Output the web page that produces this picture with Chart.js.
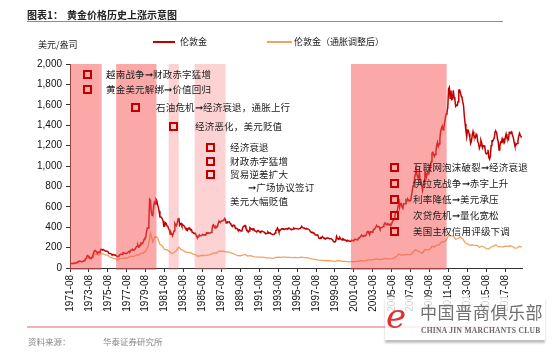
<!DOCTYPE html>
<html><head><meta charset="utf-8">
<script src="https://cdn.jsdelivr.net/npm/chart.js@4/dist/chart.umd.min.js"></script>
<style>
html,body{margin:0;padding:0;background:#fff;}
#wrap{position:relative;width:555px;height:353px;overflow:hidden;font-family:"Noto Sans CJK SC","Liberation Sans",sans-serif;color:#222;}
#c{position:absolute;left:0;top:0;}
.t{position:absolute;white-space:nowrap;line-height:12px;}
.sq{position:absolute;width:5px;height:5px;border:2px solid #c00000;}
.ann{position:absolute;white-space:nowrap;font-size:9.5px;line-height:12px;color:#222;letter-spacing:0.2px;}
</style></head>
<body><div id="wrap">
<canvas id="c" width="555" height="353"></canvas>
<div class="t" style="left:27px;top:9px;font-size:10px;font-weight:bold;">图表1：</div>
<div class="t" style="left:67px;top:9px;font-size:10px;font-weight:bold;">黄金价格历史上涨示意图</div>
<div style="position:absolute;left:27px;top:21px;width:476px;height:1px;background:#d27070;"></div>
<div class="t" style="left:38px;top:39px;font-size:9px;">美元/盎司</div>
<div style="position:absolute;left:153px;top:41px;width:22px;height:2px;background:#c00000;"></div>
<div class="t" style="left:180px;top:36px;font-size:9px;">伦敦金</div>
<div style="position:absolute;left:267px;top:41px;width:25px;height:2px;background:#f2a262;"></div>
<div class="t" style="left:294px;top:36px;font-size:9px;">伦敦金（通胀调整后）</div>
<div id="ann"></div>
<div style="position:absolute;left:27px;top:326px;width:476px;height:2px;background:#f0b4ac;"></div>
<div class="t" style="left:28px;top:335px;font-size:8.5px;color:#888;">资料来源：</div>
<div class="t" style="left:103px;top:335px;font-size:8.5px;color:#888;">华泰证券研究所</div>
<div style="position:absolute;left:385px;top:297px;width:160px;height:43px;background:rgba(255,255,255,0.8);box-shadow:0 3px 2px rgba(0,0,0,0.25);"></div>
<div class="t" style="left:386px;top:296px;font-size:34px;line-height:40px;color:#e03030;font-family:'DejaVu Serif',serif;font-style:italic;">e</div>
<div class="t" style="left:420px;top:302px;font-size:17px;line-height:20px;color:#707070;letter-spacing:0.6px;">中国晋商俱乐部</div>
<div class="t" style="left:421px;top:326px;font-size:7.5px;line-height:9px;color:#666;font-family:'Liberation Serif',serif;font-weight:bold;letter-spacing:0.3px;">CHINA JIN MARCHANTS CLUB</div>
</div>
<script>
// ---- data ----
const startLabel = '1971-08';
// monthly average London gold price (USD/oz), 1971-08 .. 2019-05
const goldNominal = [
43,42,43,43,44,
46,48,48,49,55,62,66,67,66,65,63,64,
65,74,84,91,102,123,120,107,103,100,95,107,
129,150,168,172,164,154,143,155,152,159,182,184,
176,180,178,170,167,164,165,163,144,143,142,139,
131,131,133,128,127,126,118,109,114,116,130,134,
132,136,148,149,147,141,143,145,150,159,163,160,
173,178,184,175,176,183,189,206,213,227,206,208,
227,246,242,239,258,279,295,301,355,392,391,455,
675,665,554,517,514,601,644,627,674,661,624,595,
558,501,500,496,480,461,409,410,444,438,413,410,
384,374,330,350,334,315,339,364,436,422,414,444,
481,491,420,433,438,413,423,416,412,394,382,388,
371,386,394,381,378,378,348,348,341,340,341,320,
303,299,304,325,317,317,318,330,324,326,325,322,
345,339,346,341,342,343,349,377,418,424,399,391,
408,401,409,438,460,450,451,461,460,466,468,486,
477,442,444,452,451,452,438,431,414,407,420,419,
404,388,390,384,371,368,375,365,363,367,392,409,
410,417,393,374,369,352,363,395,389,381,382,378,
384,364,363,358,357,367,368,357,349,359,360,361,
355,354,344,339,337,341,353,343,345,344,335,335,
329,329,330,342,367,371,392,379,355,364,374,383,
387,382,384,378,381,386,386,380,392,390,384,379,
379,377,382,391,385,388,386,384,383,383,386,387,
400,405,396,393,392,385,384,388,383,381,378,369,
355,347,352,345,344,341,324,324,323,325,306,289,
289,298,296,308,299,292,293,284,289,296,294,292,
287,287,286,283,276,261,256,257,265,311,293,283,
285,301,286,280,275,286,282,275,274,270,266,272,
266,262,263,261,272,270,268,272,283,283,276,276,
282,296,294,303,315,321,313,310,319,317,319,333,
357,359,341,328,356,356,351,360,379,379,390,408,
414,405,407,403,384,392,398,401,405,421,439,442,
424,423,434,429,422,431,425,438,456,470,477,510,
550,555,557,611,677,596,634,633,598,586,628,630,
631,665,655,679,667,656,665,665,713,755,806,803,
890,922,968,910,889,890,940,839,830,807,761,816,
859,943,924,890,929,946,934,949,997,1043,1127,1135,
1118,1095,1113,1149,1205,1233,1193,1216,1271,1342,1370,1391,
1356,1373,1424,1474,1510,1529,1573,1756,1772,1665,1739,1652,
1656,1743,1674,1650,1586,1597,1594,1630,1745,1747,1722,1685,
1672,1628,1593,1488,1414,1343,1286,1352,1349,1317,1276,1222,
1244,1300,1336,1299,1289,1279,1311,1295,1237,1223,1175,1201,
1251,1227,1179,1199,1199,1182,1128,1118,1125,1159,1086,1068,
1098,1200,1245,1242,1261,1276,1337,1340,1327,1267,1238,1157,
1192,1234,1231,1267,1246,1260,1237,1283,1314,1280,1282,1265,
1331,1331,1325,1335,1304,1282,1238,1202,1198,1215,1221,1250,
1292,1320,1301,1286,1284
];
// inflation-adjusted gold price (1971 dollars), quarterly 1971-08 .. 2019-05
const goldReal = [
43,43,
48,53,65,61, 71,95,97,84, 131,137,125,143, 139,128,123,105,
96,92,78,92, 94,99,97,108, 116,112,128,125, 145,147,166,210,
344,257,307,298, 232,217,181,180, 161,142,152,172, 205,180,170,154,
154,149,136,132, 115,120,125,122, 127,128,140,147, 147,166,164,165,
156,157,148,142, 130,122,120,127, 133,117,122,116, 110,107,107,107,
104,99,99,96, 94,104,107,105, 106,106,104,105, 102,103,102,103,
107,102,101,97, 89,88,82,77, 75,75,71,73, 71,68,63,71,
72,66,65,62, 61,63,63,64, 68,71,70,72, 80,79,80,86,
89,83,86,94, 90,89,91,98, 114,136,127,127, 133,131,131,157,
178,167,156,146, 181,177,180,213, 206,225,227,255, 253,273,316,314,
312,282,289,305, 286,248,236,223, 226,221,222,203, 213,206,191,187,
206,214,227,209, 207,208,213,212, 218,211,195,198,
213,205
];
const xTickLabels = ['1971-08','1973-08','1975-08','1977-08','1979-08','1981-08','1983-08','1985-08','1987-08','1989-08','1991-08','1993-08','1995-08','1997-08','1999-08','2001-08','2003-08','2005-08','2007-08','2009-08','2011-08','2013-08','2015-08','2017-08'];
const yTickValues = [0,200,400,600,800,1000,1200,1400,1600,1800,2000];
// shaded periods (decimal years)
const periodStart = [1971.58, 1976.46, 1982.01, 1984.75, 2001.27];
const periodEnd   = [1974.92, 1980.72, 1983.07, 1988.02, 2011.38];
const periodStrong = [true, true, false, false, true];
const seriesNames = ['伦敦金', '伦敦金（通胀调整后）'];
const notes = [
 '越南战争➞财政赤字猛增','黄金美元解绑➞价值回归','石油危机➞经济衰退，通胀上行','经济恶化，美元贬值',
 '经济衰退','财政赤字猛增','贸易逆差扩大','➞广场协议签订','美元大幅贬值',
 '互联网泡沫破裂➞经济衰退','伊拉克战争➞赤字上升','利率降低➞美元承压','次贷危机➞量化宽松','美国主权信用评级下调'
];

// ---- build ----
const ym = s => parseInt(s.slice(0,4)) + (parseInt(s.slice(5,7)) - 1) / 12;
const x0 = ym(startLabel);
const nominalPts = goldNominal.map((v,i)=>({x: x0 + i/12, y: v}));
const realPts = goldReal.map((v,i)=>({x: x0 + i*3/12, y: v}));
const tickPos = xTickLabels.map(ym);

// annotation overlay (layout only)
const annLayout = [
 [87,74,106],[87,89,106],[135,107,156],[173,126,195],
 [210,147,230],[210,161,230],[210,174,230],[null,187,248],[null,201,230],
 [394,167,413],[394,183,413],[394,199,413],[394,215,413],[394,231,413]
];
const annDiv = document.getElementById('ann');
notes.forEach((txt,i)=>{
  const [sx, cy, tx] = annLayout[i];
  if (sx !== null) {
    const s = document.createElement('div'); s.className='sq';
    s.style.left=(sx-4)+'px'; s.style.top=(cy-4)+'px'; annDiv.appendChild(s);
  }
  const t = document.createElement('div'); t.className='ann';
  t.style.left=tx+'px'; t.style.top=(cy-6)+'px'; t.textContent=txt; annDiv.appendChild(t);
});

const shadePlugin = {
  id:'shade',
  afterDatasetsDraw(chart){
    const {ctx, chartArea, scales:{x, y}} = chart;
    const top = y.getPixelForValue(yTickValues[yTickValues.length-1]);
    ctx.save();
    periodStart.forEach((s,i)=>{
      const a = x.getPixelForValue(s), b = x.getPixelForValue(periodEnd[i]);
      ctx.fillStyle = periodStrong[i] ? 'rgba(245,82,82,0.5)' : 'rgba(245,118,118,0.33)';
      ctx.fillRect(a, top, b - a, chartArea.bottom + 2 - top);
    });
    ctx.restore();
  }
};

new Chart(document.getElementById('c'), {
  type:'line',
  data:{datasets:[
    {label:seriesNames[0], data:nominalPts, borderColor:'#c00000', borderWidth:1.5, pointRadius:0, tension:0, order:1},
    {label:seriesNames[1], data:realPts, borderColor:'#f2a262', borderWidth:1.3, pointRadius:0, tension:0, order:2}
  ]},
  options:{
    responsive:false, animation:false, devicePixelRatio:1,
    layout:{padding:{left:0, right:33, top:64, bottom:0}},
    plugins:{legend:{display:false}, tooltip:{enabled:false}},
    scales:{
      x:{type:'linear', min:x0, max:ym('2019-05')+0.01,
        afterBuildTicks: s => { s.ticks = tickPos.map(v=>({value:v})); },
        afterFit: s => { s.height = 85; },
        ticks:{autoSkip:false, maxRotation:90, minRotation:90, padding:3, color:'#111',
          font:{family:'Liberation Sans', size:10},
          callback:(v,i)=>xTickLabels[i]},
        grid:{drawOnChartArea:false, drawTicks:true, tickLength:4, color:'#333'},
        border:{display:true, color:'#333', width:1}
      },
      y:{min:0, max:2000,
        afterBuildTicks: s => { s.ticks = yTickValues.map(v=>({value:v})); },
        afterFit: s => { s.width = 70; },
        ticks:{padding:4, color:'#111', font:{family:'Liberation Sans', size:10},
          callback:v=>v.toLocaleString('en-US')},
        grid:{drawOnChartArea:false, drawTicks:true, tickLength:4, color:'#333'},
        border:{display:true, color:'#333', width:1}
      }
    }
  },
  plugins:[shadePlugin]
});
</script>
</body></html>
